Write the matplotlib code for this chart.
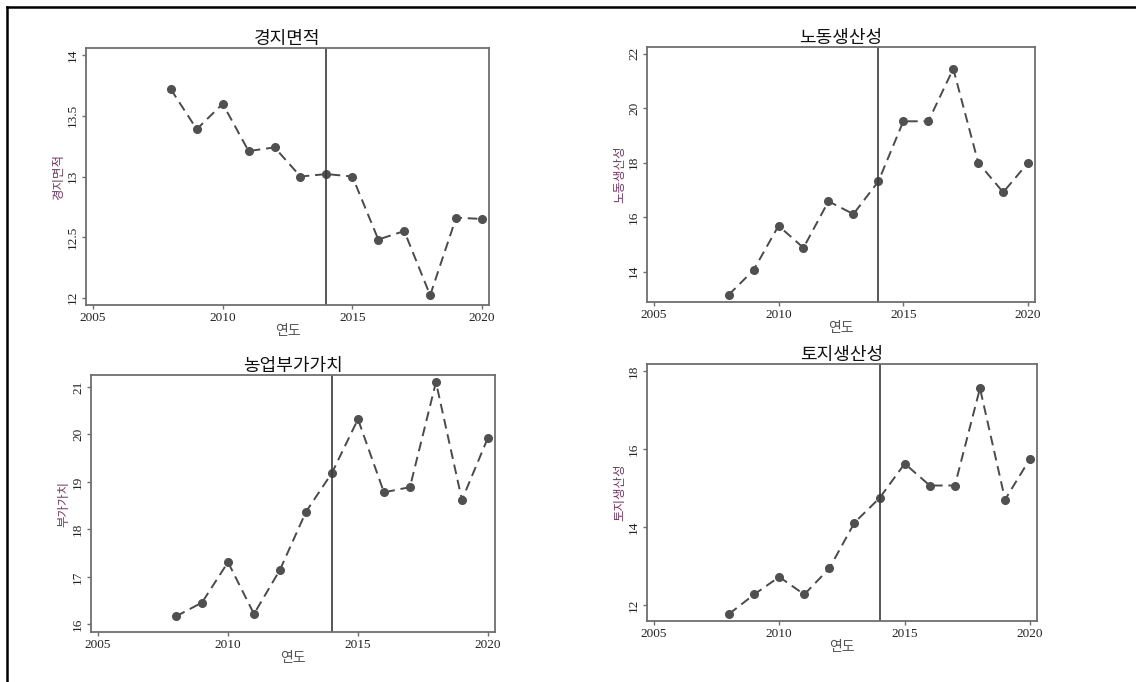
#!/usr/bin/env python3
import matplotlib
matplotlib.use("Agg")
import matplotlib.pyplot as plt
from matplotlib.lines import Line2D

years = list(range(2008, 2021))

# 경지면적
area = [13.72, 13.39, 13.60, 13.21, 13.24, 13.00, 13.02, 13.00,
        12.48, 12.55, 12.02, 12.66, 12.65]
# 노동생산성
labor = [13.14, 14.05, 15.68, 14.87, 16.58, 16.11, 17.31, 19.52,
         19.52, 21.45, 18.00, 16.91, 18.00]
# 부가가치
value = [16.17, 16.46, 17.31, 16.22, 17.15, 18.37, 19.19, 20.32,
         18.78, 18.89, 21.10, 18.62, 19.93]
# 토지생산성
land = [11.78, 12.28, 12.73, 12.28, 12.95, 14.12, 14.75, 15.63,
        15.07, 15.07, 17.56, 14.71, 15.76]

titles = ["경지면적", "노동생산성", "농업부가가치", "토지생산성"]
ylabels = ["경지면적", "노동생산성", "부가가치", "토지생산성"]
series = [area, labor, value, land]
yticks = [[12, 12.5, 13, 13.5, 14], [14, 16, 18, 20, 22],
          [16, 17, 18, 19, 20, 21], [12, 14, 16, 18]]
yticklabels = [["12", "12.5", "13", "13.5", "14"],
               ["14", "16", "18", "20", "22"],
               ["16", "17", "18", "19", "20", "21"],
               ["12", "14", "16", "18"]]
ylims = [(11.94, 14.06), (12.88, 22.25), (15.84, 21.25), (11.6, 18.18)]
xticks = [2005, 2010, 2015, 2020]
break_year = 2014

positions = [[0.0757, 0.5528, 0.3548, 0.3768],
             [0.5695, 0.5572, 0.3415, 0.3739],
             [0.0801, 0.0733, 0.3556, 0.3768],
             [0.5695, 0.0894, 0.3433, 0.3768]]

KR = ["Noto Sans CJK KR", "DejaVu Sans"]
SERIF = ["Liberation Serif", "DejaVu Serif"]
FRAME = "#6e6e6e"


def draw_panel(fig, pos, title, ylabel, y, yt, ytl, ylim):
    ax = fig.add_axes(pos)
    ax.plot(years, y, linestyle=(0, (5, 3)), color="#4a4a4a", lw=1.4,
            marker="o", markersize=5.5, markerfacecolor="#505050",
            markeredgecolor="#505050")
    ax.axvline(break_year, color="#3a3a3a", lw=1.2)
    ax.set_xlim(2004.73, 2020.27)
    ax.set_ylim(*ylim)
    ax.set_xticks(xticks)
    ax.set_xticklabels([str(t) for t in xticks], family=SERIF,
                       fontsize=9.5, color="#222222")
    ax.set_yticks(yt)
    ax.set_yticklabels(ytl, family=SERIF, fontsize=9.5, color="#222222",
                       rotation=90, va="center")
    ax.tick_params(direction="out", length=3, width=1, color=FRAME, pad=2)
    for s in ax.spines.values():
        s.set_color(FRAME)
        s.set_linewidth(1.3)
    ax.set_title(title, family=KR, fontsize=13, color="#111111", pad=1)
    ax.set_xlabel("연도", family=KR, fontsize=10, color="#555555",
                  labelpad=0)
    ax.set_ylabel(ylabel, family=KR, fontsize=9, color="#7a3a66",
                  labelpad=1)
    return ax


def main():
    fig = plt.figure(figsize=(11.36, 6.82), dpi=100)
    for pos, t, yl, y, yt, ytl, lim in zip(positions, titles, ylabels,
                                           series, yticks, yticklabels,
                                           ylims):
        draw_panel(fig, pos, t, yl, y, yt, ytl, lim)
    # outer frame lines (top and left) of the screenshot
    fig.add_artist(Line2D([0.006, 1.0], [0.99, 0.99], color="black",
                          lw=1.8, transform=fig.transFigure))
    fig.add_artist(Line2D([0.006, 0.006], [0.0, 0.99], color="black",
                          lw=1.8, transform=fig.transFigure))
    fig.savefig("out.png", dpi=100)


if __name__ == "__main__":
    main()
